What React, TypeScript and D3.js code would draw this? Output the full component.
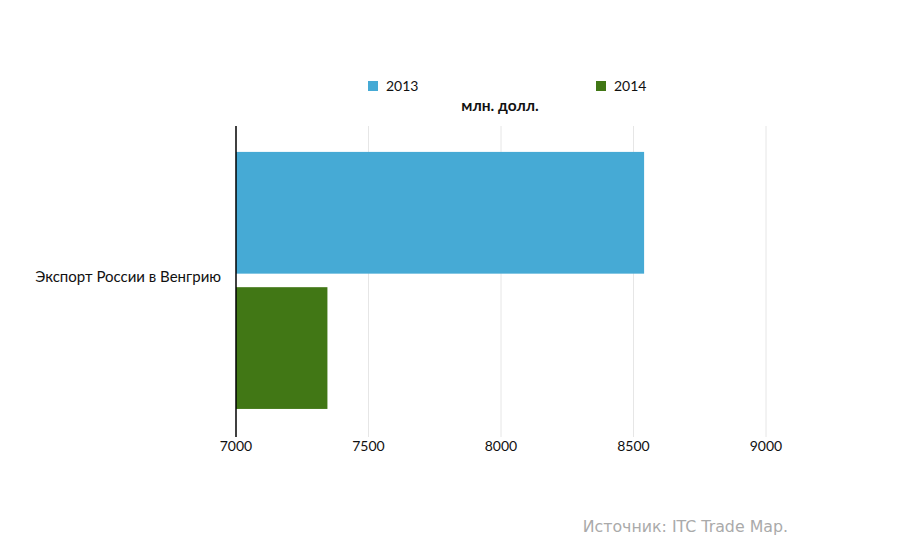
import React, { useEffect, useRef } from 'react';
import * as d3 from 'd3';

const categories = ['Экспорт России в Венгрию'];
const years = ['2013', '2014'];
const values2013 = [8540];
const values2014 = [7345];
const xTicks = [7000, 7500, 8000, 8500, 9000];
const colors = ['#46aad5', '#417715'];

export default function App() {
  const ref = useRef<SVGSVGElement | null>(null);

  useEffect(() => {
    if (!ref.current) return;
    const svg = d3.select(ref.current);
    svg.selectAll('*').remove();

    const width = 900;
    const height = 558;
    const margin = { top: 126, right: 134, bottom: 121, left: 236 };
    const font = 'Lato, "Open Sans", sans-serif';

    const x = d3.scaleLinear()
      .domain([7000, 9000])
      .range([margin.left, width - margin.right]);

    const y0 = d3.scaleBand<string>()
      .domain(categories)
      .range([margin.top, height - margin.bottom])
      .paddingOuter(0.105)
      .align(0.48);

    const y1 = d3.scaleBand<string>()
      .domain(years)
      .range([0, y0.bandwidth()])
      .paddingInner(0.1);

    const color = d3.scaleOrdinal<string, string>().domain(years).range(colors);

    // grid lines
    svg.append('g')
      .selectAll('line')
      .data(xTicks.slice(1))
      .join('line')
      .attr('x1', d => x(d))
      .attr('x2', d => x(d))
      .attr('y1', margin.top)
      .attr('y2', height - margin.bottom)
      .attr('stroke', '#e6e6e6')
      .attr('stroke-width', 1);

    // bars
    const series = [values2013, values2014];
    const g = svg.append('g');
    categories.forEach((cat, ci) => {
      years.forEach((yr, yi) => {
        const v = series[yi][ci];
        g.append('rect')
          .attr('x', x(7000))
          .attr('y', y0(cat)! + y1(yr)!)
          .attr('width', x(v) - x(7000))
          .attr('height', y1.bandwidth())
          .attr('fill', color(yr));
      });
    });

    // left axis line
    svg.append('line')
      .attr('x1', x(7000))
      .attr('x2', x(7000))
      .attr('y1', margin.top)
      .attr('y2', height - margin.bottom)
      .attr('stroke', '#000')
      .attr('stroke-width', 1.5);

    // category labels
    svg.append('g')
      .selectAll('text')
      .data(categories)
      .join('text')
      .attr('x', margin.left - 15)
      .attr('y', d => y0(d)! + y0.bandwidth() / 2 - 2)
      .attr('text-anchor', 'end')
      .attr('dominant-baseline', 'middle')
      .attr('fill', '#111')
      .style('font-family', font)
      .style('font-size', '15px')
      .text(d => d);

    // x tick labels
    svg.append('g')
      .selectAll('text')
      .data(xTicks)
      .join('text')
      .attr('x', d => x(d))
      .attr('y', height - margin.bottom + 14)
      .attr('text-anchor', 'middle')
      .attr('fill', '#111')
      .style('font-family', font)
      .style('font-size', '14px')
      .text(d => String(d));

    // legend
    const legendX = [368, 596];
    const legend = svg.append('g');
    years.forEach((yr, i) => {
      legend.append('rect')
        .attr('x', legendX[i])
        .attr('y', 81)
        .attr('width', 10)
        .attr('height', 10)
        .attr('fill', color(yr));
      legend.append('text')
        .attr('x', legendX[i] + 18)
        .attr('y', 91)
        .attr('fill', '#111')
        .style('font-family', font)
        .style('font-size', '14px')
        .text(yr);
    });

    // unit title
    svg.append('text')
      .attr('x', 500)
      .attr('y', 111)
      .attr('text-anchor', 'middle')
      .attr('fill', '#111')
      .style('font-family', font)
      .style('font-size', '15.5px')
      .style('font-weight', 'bold')
      .text('млн. долл.');

    // source
    svg.append('text')
      .attr('x', 788)
      .attr('y', 532)
      .attr('text-anchor', 'end')
      .attr('fill', '#aaaaaa')
      .style('font-family', 'Tahoma, "DejaVu Sans", sans-serif')
      .style('font-size', '15.8px')
      .text('Источник: ITC Trade Map.');
  }, []);

  return (
    <svg
      ref={ref}
      width={900}
      height={558}
      style={{ position: 'absolute', left: 0, top: 0, background: '#fff' }}
    />
  );
}
